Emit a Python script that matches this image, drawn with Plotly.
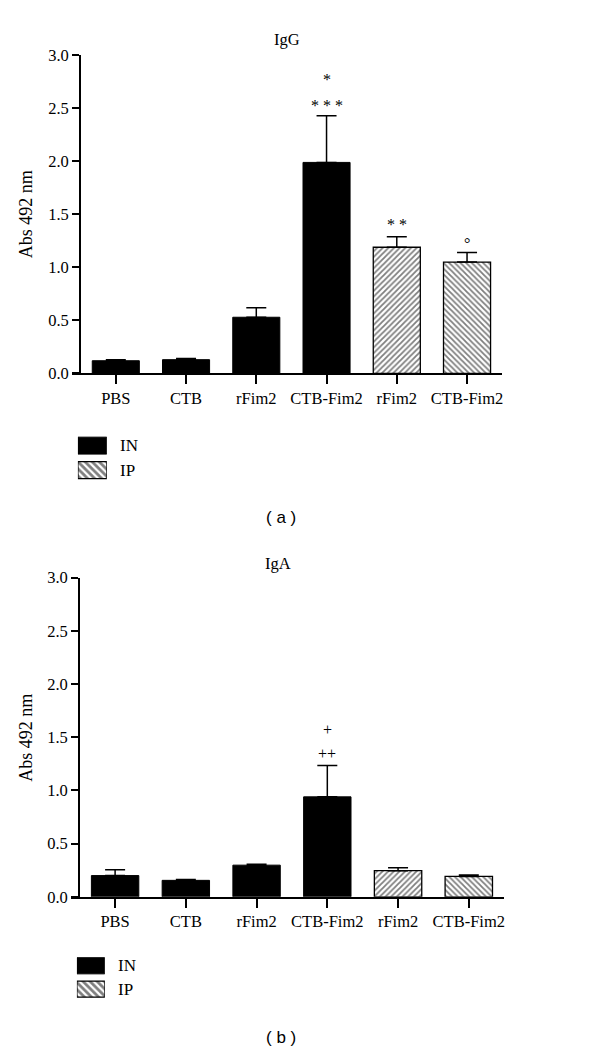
import plotly.graph_objects as go

# the page body adds an 8px margin, so the figure is drawn 8px in and 8px down
OFF = 8
W, H = 600 - OFF, 1062 - OFF

categories = ["PBS", "CTB", "rFim2", "CTB-Fim2", "rFim2", "CTB-Fim2"]
routes = ["IN", "IN", "IN", "IN", "IP", "IP"]
legend_labels = ["IN", "IP"]

igg_mean = [0.12, 0.13, 0.53, 1.99, 1.19, 1.05]
igg_err = [0.01, 0.01, 0.09, 0.44, 0.10, 0.09]
iga_mean = [0.20, 0.155, 0.298, 0.94, 0.246, 0.192]
iga_err = [0.055, 0.008, 0.009, 0.295, 0.028, 0.013]

# significance marks: (category index, y value, text)
igg_marks_x = [3, 3, 4, 5]
igg_marks_y = [2.77, 2.53, 1.40, 1.23]
igg_marks_t = ["*", "* * *", "* *", "°"]
iga_marks_x = [3, 3]
iga_marks_y = [1.57, 1.35]
iga_marks_t = ["+", "++"]

ip_patterns = ["/", "\\"]

SERIF = "Liberation Serif, Times New Roman, serif"
SANS = "Liberation Sans, Arial, sans-serif"


def px(x):
    return (x - OFF) / W


def py(y):
    return 1 - (y - OFF) / H


fig = go.Figure()

panels = [
    dict(mean=igg_mean, err=igg_err, mx=igg_marks_x, my=igg_marks_y, mt=igg_marks_t,
         xa="x", ya="y", xl=72, xr=503, yaxis_x=80, ytop=47, ybot=371),
    dict(mean=iga_mean, err=iga_err, mx=iga_marks_x, my=iga_marks_y, mt=iga_marks_t,
         xa="x2", ya="y2", xl=71, xr=505, yaxis_x=79, ytop=579, ybot=904),
]

for p in panels:
    in_idx = [i for i, r in enumerate(routes) if r == "IN"]
    ip_idx = [i for i, r in enumerate(routes) if r == "IP"]
    fig.add_trace(go.Bar(
        x=in_idx, y=[p["mean"][i] for i in in_idx], width=0.67,
        marker=dict(color="black", line=dict(color="black", width=1)),
        error_y=dict(type="data", symmetric=False,
                     array=[p["err"][i] for i in in_idx],
                     arrayminus=[0] * len(in_idx),
                     color="black", thickness=1.5, width=10),
        xaxis=p["xa"], yaxis=p["ya"], showlegend=False))
    fig.add_trace(go.Bar(
        x=ip_idx, y=[p["mean"][i] for i in ip_idx], width=0.67,
        marker=dict(color="white", line=dict(color="black", width=1.3),
                    pattern=dict(shape=ip_patterns, fgcolor="black", bgcolor="white",
                                 size=4, solidity=0.45)),
        error_y=dict(type="data", symmetric=False,
                     array=[p["err"][i] for i in ip_idx],
                     arrayminus=[0] * len(ip_idx),
                     color="black", thickness=1.5, width=10),
        xaxis=p["xa"], yaxis=p["ya"], showlegend=False))
    for xx, yy, tt in zip(p["mx"], p["my"], p["mt"]):
        fig.add_annotation(x=xx, y=yy, xref=p["xa"], yref=p["ya"], text=tt,
                           showarrow=False, font=dict(family=SERIF, size=16, color="black"))

# legend swatches as tiny bar axes
legends = [
    dict(xa="x3", ya="y3", x0=78, x1=107, y0=432, y1=482, lx=118),
    dict(xa="x4", ya="y4", x0=77, x1=105, y0=962.3, y1=1009.9, lx=116),
]
for lg in legends:
    fig.add_trace(go.Bar(
        y=[0], x=[1], orientation="h", width=0.69, cliponaxis=False,
        marker=dict(color="black", line=dict(color="black", width=1)),
        xaxis=lg["xa"], yaxis=lg["ya"], showlegend=False))
    fig.add_trace(go.Bar(
        y=[1], x=[1], orientation="h", width=0.69, cliponaxis=False,
        marker=dict(color="white", line=dict(color="black", width=1.3),
                    pattern=dict(shape="\\", fgcolor="black", bgcolor="white",
                                 size=5, solidity=0.55)),
        xaxis=lg["xa"], yaxis=lg["ya"], showlegend=False))
    pitch = (lg["y1"] - lg["y0"]) / 2
    for k, lab in enumerate(legend_labels):
        fig.add_annotation(x=px(lg["lx"]), y=py(lg["y0"] + pitch * (k + 0.5)),
                           xref="paper", yref="paper", xanchor="left", yanchor="middle",
                           text=lab, showarrow=False,
                           font=dict(family=SERIF, size=17, color="black"))

axis_common = dict(showgrid=False, zeroline=False, showline=True, linecolor="black",
                   linewidth=1.5, ticks="outside", tickcolor="black", tickwidth=1.5,
                   tickfont=dict(family=SERIF, size=16.5, color="black"))

layout = dict(
    width=W, height=H, margin=dict(l=0, r=0, t=0, b=0),
    paper_bgcolor="white", plot_bgcolor="white", barmode="overlay",
)

for n, p in zip(["", "2"], panels):
    layout["xaxis" + n] = dict(
        axis_common, domain=[px(p["xl"]), px(p["xr"])], range=[-0.625, 5.5],
        anchor="y" + n, tickvals=list(range(len(categories))), ticktext=categories,
        ticklen=9)
    layout["yaxis" + n] = dict(
        axis_common, domain=[py(p["ybot"]), py(p["ytop"])], range=[0, 3],
        anchor="free", position=px(p["yaxis_x"]),
        tickvals=[0, 0.5, 1, 1.5, 2, 2.5, 3], tickformat=".1f", ticklen=7)

for n, lg in zip(["3", "4"], legends):
    layout["xaxis" + n] = dict(domain=[px(lg["x0"]), px(lg["x1"])], range=[0, 1],
                               visible=False, anchor="y" + n)
    layout["yaxis" + n] = dict(domain=[py(lg["y1"]), py(lg["y0"])], range=[1.5, -0.5],
                               visible=False, anchor="x" + n)

fig.update_layout(**layout)

# titles, axis titles, panel letters
texts = [
    ("IgG", 287, 31, SERIF, 16.5, 0),
    ("IgA", 278, 565, SERIF, 16.5, 0),
    ("Abs 492 nm", 26, 209, SERIF, 18, -90),
    ("Abs 492 nm", 26, 742, SERIF, 18, -90),
    ("( a )", 281, 518, SANS, 17, 0),
    ("( b )", 281, 1047, SANS, 17, 0),
]
for t, x, y, fam, sz, ang in texts:
    fig.add_annotation(x=px(x), y=py(y), xref="paper", yref="paper", text=t,
                       showarrow=False, textangle=ang, xanchor="center", yanchor="middle",
                       font=dict(family=fam, size=sz, color="black"))

fig.write_html("out.html")
